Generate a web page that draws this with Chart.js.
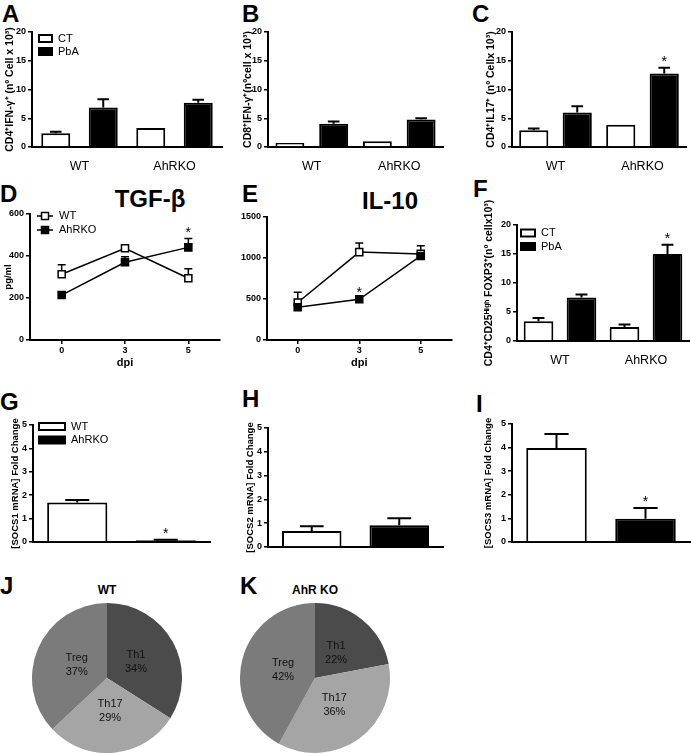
<!DOCTYPE html>
<html>
<head>
<meta charset="utf-8">
<script src="https://cdn.jsdelivr.net/npm/chart.js@4.4.1/dist/chart.umd.min.js"></script>
<style>
  body { margin: 0; background: #fff; }
  #page { position: relative; width: 691px; height: 754px; overflow: hidden; font-family: "Liberation Sans", Arial, sans-serif; }
  canvas { position: absolute; }
  .tag { position: absolute; font-weight: bold; font-size: 24px; line-height: 1; color: #000; }
  .head { position: absolute; font-weight: bold; line-height: 1; color: #000; transform: translateX(-50%); white-space: nowrap; }
</style>
</head>
<body>
<div id="page">
  <div class="tag" style="left:2px;top:2px">A</div>
  <div class="tag" style="left:242px;top:2px">B</div>
  <div class="tag" style="left:472px;top:2px">C</div>
  <div class="tag" style="left:0px;top:182px">D</div>
  <div class="tag" style="left:242px;top:182px">E</div>
  <div class="tag" style="left:473px;top:177px">F</div>
  <div class="tag" style="left:0px;top:390px">G</div>
  <div class="tag" style="left:242px;top:387px">H</div>
  <div class="tag" style="left:476px;top:392px">I</div>
  <div class="tag" style="left:0px;top:574px">J</div>
  <div class="tag" style="left:240px;top:574px">K</div>

  <div class="head" style="left:150px;top:187px;font-size:24px">TGF-β</div>
  <div class="head" style="left:390px;top:189px;font-size:24px">IL-10</div>
  <div class="head" style="left:107px;top:584px;font-size:12px">WT</div>
  <div class="head" style="left:315px;top:584px;font-size:12px">AhR KO</div>

  <canvas id="chartA"></canvas>
  <canvas id="chartB"></canvas>
  <canvas id="chartC"></canvas>
  <canvas id="chartD"></canvas>
  <canvas id="chartE"></canvas>
  <canvas id="chartF"></canvas>
  <canvas id="chartG"></canvas>
  <canvas id="chartH"></canvas>
  <canvas id="chartI"></canvas>
  <canvas id="chartJ"></canvas>
  <canvas id="chartK"></canvas>
</div>
<script>
// ---- values ----
const groups = ['WT', 'AhRKO'];
const treatments = ['CT', 'PbA'];

// A: CD4+ IFN-g+ cells
const cd4IfnCT = [2.4, 3.3];
const cd4IfnCTErr = [0.25, 0];
const cd4IfnPbA = [6.85, 7.7];
const cd4IfnPbAErr = [1.45, 0.5];

// B: CD8+ IFN-g+ cells
const cd8IfnCT = [0.7, 1.0];
const cd8IfnCTErr = [0, 0];
const cd8IfnPbA = [4.05, 4.8];
const cd8IfnPbAErr = [0.4, 0.2];

// C: CD4+ IL17+ cells
const cd4Il17CT = [2.9, 3.85];
const cd4Il17CTErr = [0.3, 0];
const cd4Il17PbA = [6.0, 12.8];
const cd4Il17PbAErr = [1.1, 1.0];
const cd4Il17PbASig = [false, true];

// D, E: cytokines over days post infection
const dpi = ['0', '3', '5'];
const tgfWT = [313, 437, 294];
const tgfWTErr = [45, 8, 45];
const tgfKO = [214, 370, 441];
const tgfKOErr = [0, 27, 42];
const tgfKOSig = [false, false, true];
const il10WT = [457, 1072, 1050];
const il10WTErr = [125, 110, 100];
const il10KO = [400, 497, 1025];
const il10KOErr = [0, 0, 0];
const il10KOSig = [false, true, false];

// F: Treg cells
const tregCT = [3.4, 2.4];
const tregCTErr = [0.55, 0.45];
const tregPbA = [7.5, 15.0];
const tregPbAErr = [0.5, 1.6];
const tregPbASig = [false, true];

// G, H, I: SOCS fold change (WT, AhRKO)
const socs1 = [1.69, 0.07];
const socs1Err = [0.1, 0.03];
const socs1Sig = [false, true];
const socs2 = [0.67, 0.91];
const socs2Err = [0.2, 0.3];
const socs3 = [3.98, 0.99];
const socs3Err = [0.6, 0.45];
const socs3Sig = [false, true];

// J, K: T helper subsets (%)
const subsets = ['Th1', 'Th17', 'Treg'];
const wtShare = [34, 29, 37];
const koShare = [22, 36, 42];

// tick labels
const countTicks = [0, 5, 10, 15, 20];
const tgfTicks = [0, 200, 400, 600];
const il10Ticks = [0, 500, 1000, 1500];
const foldTicks = [0, 1, 2, 3, 4, 5];

const FONT = '"Liberation Sans", Arial, sans-serif';
Chart.defaults.font.family = FONT;
Chart.defaults.color = '#000';

const groupFill = ['#fff', '#000'];
const subsetColors = ['#4b4b4b', '#a5a5a5', '#7b7b7b'];

// error bars (drawn under the marks) and significance stars
const errorBars = {
  id: 'errorBars',
  beforeDatasetsDraw(chart, args, opts) {
    const ctx = chart.ctx, y = chart.scales.y;
    ctx.save();
    ctx.strokeStyle = '#000';
    ctx.lineWidth = opts.width || 2;
    chart.data.datasets.forEach((ds, di) => {
      chart.getDatasetMeta(di).data.forEach((el, i) => {
        const err = ds.errors ? ds.errors[i] : 0;
        if (!err) return;
        const top = y.getPixelForValue(ds.data[i] + err);
        const half = opts.cap || el.width * 0.2;
        ctx.beginPath();
        ctx.moveTo(el.x, el.y);
        ctx.lineTo(el.x, top);
        ctx.moveTo(el.x - half, top);
        ctx.lineTo(el.x + half, top);
        ctx.stroke();
      });
    });
    ctx.restore();
  },
  afterDatasetsDraw(chart) {
    const ctx = chart.ctx, y = chart.scales.y;
    ctx.save();
    ctx.fillStyle = '#000';
    ctx.font = '14px ' + FONT;
    ctx.textAlign = 'center';
    chart.data.datasets.forEach((ds, di) => {
      chart.getDatasetMeta(di).data.forEach((el, i) => {
        if (!ds.sig || !ds.sig[i]) return;
        const err = ds.errors ? ds.errors[i] : 0;
        const top = y.getPixelForValue(ds.data[i] + err);
        ctx.fillText('*', el.x, top - 2);
      });
    });
    ctx.restore();
  }
};

// legend drawn inside the plot, top left
const insideLegend = {
  id: 'insideLegend',
  afterDraw(chart, args, opts) {
    if (!opts.items) return;
    const ctx = chart.ctx, area = chart.chartArea;
    ctx.save();
    ctx.font = '11px ' + FONT;
    ctx.textBaseline = 'middle';
    ctx.strokeStyle = '#000';
    opts.items.forEach((item, i) => {
      const x = area.left + opts.dx;
      const y = area.top + opts.dy + i * opts.gap;
      if (opts.kind === 'line') {
        ctx.lineWidth = 1.5;
        ctx.beginPath();
        ctx.moveTo(x, y);
        ctx.lineTo(x + opts.w, y);
        ctx.stroke();
        ctx.fillStyle = item.fill;
        ctx.fillRect(x + opts.w / 2 - 3.5, y - 3.5, 7, 7);
        ctx.strokeRect(x + opts.w / 2 - 3.5, y - 3.5, 7, 7);
      } else {
        ctx.lineWidth = 2;
        ctx.fillStyle = item.fill;
        ctx.fillRect(x, y - opts.h / 2, opts.w, opts.h);
        ctx.strokeRect(x, y - opts.h / 2, opts.w, opts.h);
      }
      ctx.fillStyle = '#000';
      ctx.fillText(item.label, x + opts.w + 6, y);
    });
    ctx.restore();
  }
};

// name + percent inside each pie slice
const sliceLabels = {
  id: 'sliceLabels',
  afterDatasetsDraw(chart) {
    const ctx = chart.ctx;
    const ds = chart.data.datasets[0];
    ctx.save();
    ctx.font = '11px ' + FONT;
    ctx.fillStyle = '#111';
    ctx.textAlign = 'center';
    ctx.textBaseline = 'middle';
    chart.getDatasetMeta(0).data.forEach((arc, i) => {
      const mid = (arc.startAngle + arc.endAngle) / 2;
      const r = arc.outerRadius * 0.44;
      const x = arc.x + Math.cos(mid) * r;
      const y = arc.y + Math.sin(mid) * r;
      ctx.fillText(chart.data.labels[i], x, y - 7);
      ctx.fillText(ds.data[i] + '%', x, y + 7);
    });
    ctx.restore();
  }
};

// box = canvas [left, top, width, height], plot = [left, top, right, bottom] on the page
function setup(id, box, plot) {
  const c = document.getElementById(id);
  c.width = box[2];
  c.height = box[3];
  c.style.left = box[0] + 'px';
  c.style.top = box[1] + 'px';
  return {
    ctx: c.getContext('2d'),
    yWidth: plot[0] - box[0],
    xHeight: box[1] + box[3] - plot[3],
    padding: { left: 0, top: plot[1] - box[1], right: box[0] + box[2] - plot[2], bottom: 0 }
  };
}

function yAxis(fit, ticks, title, titleSize) {
  return {
    min: ticks[0],
    max: ticks[ticks.length - 1],
    ticks: { stepSize: ticks[1] - ticks[0], font: { size: 9, weight: 'bold' }, padding: 2, callback: v => String(v) },
    grid: { drawOnChartArea: false, tickLength: 4, color: '#000', lineWidth: 1.5 },
    border: { color: '#000', width: 2 },
    title: { display: !!title, text: title, font: { size: titleSize || 10.5, weight: 'bold' }, padding: 0 },
    afterFit: s => { s.width = fit; }
  };
}

function xBars(fit, show) {
  return {
    ticks: { display: show, font: { size: 12.5 }, padding: 4 },
    grid: { display: false },
    border: { color: '#000', width: 2 },
    afterFit: s => { s.height = fit; }
  };
}

function xDays(fit) {
  return {
    offset: true,
    ticks: { font: { size: 9, weight: 'bold' }, padding: 1 },
    grid: { drawOnChartArea: false, offset: false, tickLength: 4, color: '#000', lineWidth: 1.5 },
    border: { color: '#000', width: 2 },
    title: { display: true, text: 'dpi', font: { size: 11, weight: 'bold' }, padding: 0 },
    afterFit: s => { s.height = fit; }
  };
}

function bars(label, values, errors, fill, pct, sig) {
  return {
    label: label, data: values, errors: errors, sig: sig,
    backgroundColor: fill, borderColor: '#000', borderWidth: 2,
    barPercentage: pct, categoryPercentage: 1
  };
}

function barPanel(id, box, plot, labels, datasets, ticks, title, showX, legend, titleSize) {
  const s = setup(id, box, plot);
  return new Chart(s.ctx, {
    type: 'bar',
    data: { labels: labels, datasets: datasets },
    options: {
      responsive: false, animation: false, devicePixelRatio: 1,
      layout: { padding: s.padding },
      scales: { x: xBars(s.xHeight, showX), y: yAxis(s.yWidth, ticks, title, titleSize) },
      plugins: { legend: { display: false }, tooltip: { enabled: false }, insideLegend: legend || {} }
    },
    plugins: [errorBars, insideLegend]
  });
}

function line(label, values, errors, fill, sig) {
  return {
    label: label, data: values, errors: errors, sig: sig,
    borderColor: '#000', borderWidth: 1.5, tension: 0,
    pointStyle: 'rect', pointRadius: 5,
    pointBackgroundColor: fill, pointBorderColor: '#000', pointBorderWidth: 1.5
  };
}

function linePanel(id, box, plot, datasets, ticks, title, legend) {
  const s = setup(id, box, plot);
  return new Chart(s.ctx, {
    type: 'line',
    data: { labels: dpi, datasets: datasets },
    options: {
      responsive: false, animation: false, devicePixelRatio: 1,
      layout: { padding: s.padding },
      scales: { x: xDays(s.xHeight), y: yAxis(s.yWidth, ticks, title, 9.5) },
      plugins: { legend: { display: false }, tooltip: { enabled: false }, errorBars: { cap: 4, width: 1.5 }, insideLegend: legend || {} }
    },
    plugins: [errorBars, insideLegend]
  });
}

function piePanel(id, box, values) {
  const s = setup(id, box, [box[0], box[1], box[0] + box[2], box[1] + box[3]]);
  return new Chart(s.ctx, {
    type: 'pie',
    data: { labels: subsets, datasets: [{ data: values, backgroundColor: subsetColors, borderWidth: 0 }] },
    options: {
      responsive: false, animation: false, devicePixelRatio: 1,
      plugins: { legend: { display: false }, tooltip: { enabled: false } }
    },
    plugins: [sliceLabels]
  });
}

const treatLegend = treatments.map((t, i) => ({ label: t, fill: groupFill[i] }));
const groupLegend = groups.map((g, i) => ({ label: g, fill: groupFill[i] }));

// A
barPanel('chartA', [4, 20, 224, 152], [32, 32, 222, 147], groups, [
  bars(treatments[0], cd4IfnCT, cd4IfnCTErr, groupFill[0], 0.61),
  bars(treatments[1], cd4IfnPbA, cd4IfnPbAErr, groupFill[1], 0.61)
], countTicks, 'CD4⁺IFN-γ⁺ (nº Cell x 10³)', true,
  { items: treatLegend, dx: 7, dy: 6.5, gap: 13, w: 13, h: 7 });

// B
barPanel('chartB', [242, 20, 214, 152], [268, 32, 443, 147], groups, [
  bars(treatments[0], cd8IfnCT, cd8IfnCTErr, groupFill[0], 0.66),
  bars(treatments[1], cd8IfnPbA, cd8IfnPbAErr, groupFill[1], 0.66)
], countTicks, 'CD8⁺IFN-γ⁺(nºcell x 10³)', true);

// C
barPanel('chartC', [485, 20, 206, 152], [512, 32, 686, 147], groups, [
  bars(treatments[0], cd4Il17CT, cd4Il17CTErr, groupFill[0], 0.67),
  bars(treatments[1], cd4Il17PbA, cd4Il17PbAErr, groupFill[1], 0.67, cd4Il17PbASig)
], countTicks, 'CD4⁺IL17⁺ (nº Cellx 10³)', true);

// D: TGF-beta
linePanel('chartD', [3, 200, 225, 170], [30, 214, 220, 340], [
  line(groups[0], tgfWT, tgfWTErr, '#fff'),
  line(groups[1], tgfKO, tgfKOErr, '#000', tgfKOSig)
], tgfTicks, 'pg/ml',
  { kind: 'line', items: groupLegend, dx: 7, dy: 2, gap: 14, w: 16 });

// E: IL-10
linePanel('chartE', [230, 200, 228, 170], [267, 217, 455, 340], [
  line(groups[1], il10KO, il10KOErr, '#000', il10KOSig),
  line(groups[0], il10WT, il10WTErr, '#fff')
], il10Ticks, '');

// F
barPanel('chartF', [483, 185, 208, 181], [517, 225, 689, 341], groups, [
  bars(treatments[0], tregCT, tregCTErr, groupFill[0], 0.69),
  bars(treatments[1], tregPbA, tregPbAErr, groupFill[1], 0.69, tregPbASig)
], countTicks, 'CD4⁺CD25ᴴⁱᵍʰ FOXP3⁺(nº cellx10³)', true,
  { items: treatLegend, dx: 4, dy: 8, gap: 13.5, w: 14, h: 7 });

// G, H, I: SOCS
function socsSet(values, errors, sig) {
  return [{
    label: 'fold', data: values, errors: errors, sig: sig,
    backgroundColor: groupFill, borderColor: '#000', borderWidth: 2,
    barPercentage: 0.68, categoryPercentage: 1
  }];
}
barPanel('chartG', [10, 400, 215, 160], [33, 425, 210, 542], groups,
  socsSet(socs1, socs1Err, socs1Sig), foldTicks, '[SOCS1 mRNA] Fold Change', false,
  { items: groupLegend, dx: 6, dy: 1.5, gap: 13.5, w: 26, h: 7 }, 9.5);
barPanel('chartH', [245, 400, 210, 160], [268, 428, 443, 547], groups,
  socsSet(socs2, socs2Err), foldTicks, '[SOCS2 mRNA] Fold Change', false, null, 9.5);
barPanel('chartI', [483, 400, 208, 160], [512, 424, 690, 542], groups,
  socsSet(socs3, socs3Err, socs3Sig), foldTicks, '[SOCS3 mRNA] Fold Change', false, null, 9.5);

// J, K: pies
piePanel('chartJ', [32, 603, 150, 150], wtShare);
piePanel('chartK', [240, 603, 150, 150], koShare);
</script>
</body>
</html>
